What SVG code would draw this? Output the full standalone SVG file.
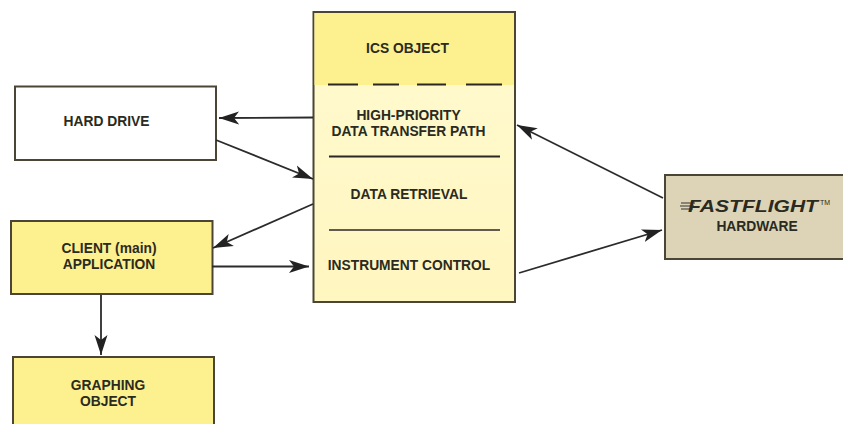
<svg xmlns="http://www.w3.org/2000/svg" width="843" height="424" viewBox="0 0 843 424">
<style>
.box{stroke:#4a4535;stroke-width:2}
.y{fill:#fdf08f}
.lbl{font-family:"Liberation Sans",Arial,sans-serif;font-weight:bold;font-size:13.800px;fill:#2a2a20;text-anchor:middle}
.c{fill:none;stroke:#2b2b2b;stroke-width:1.800;marker-end:url(#a)}
.r{stroke:#2b2723;fill:none}
</style>
<defs>
<marker id="a" markerUnits="userSpaceOnUse" markerWidth="24" markerHeight="20" refX="20" refY="10" orient="auto">
<path d="M0 3.500 L20 10 L0 16.500 L5 10 Z" fill="#222"/>
</marker>
<linearGradient id="g" x1="0" y1="0" x2="0" y2="1"><stop offset="0" stop-color="#fffad0"/><stop offset="1" stop-color="#fff6c0"/></linearGradient>
</defs>
<rect width="843" height="424" fill="#fff"/>
<g id="ics-object">
<rect x="313.500" y="12" width="201.500" height="290" fill="url(#g)" class="box"/>
<rect x="314.500" y="13" width="199.500" height="72" class="y"/>
<line x1="328" y1="84.500" x2="502" y2="84.500" class="r" stroke-width="2" stroke-dasharray="30 15 26 18 29 20 36"/>
<line x1="329" y1="156.500" x2="500" y2="156.500" class="r" stroke-width="2"/>
<line x1="329" y1="230" x2="500" y2="230" class="r" stroke-width="1.300"/>
<text x="407.500" y="52.500" class="lbl">ICS OBJECT</text>
<text x="408.500" y="120" class="lbl">HIGH-PRIORITY</text>
<text x="408.500" y="136" class="lbl">DATA TRANSFER PATH</text>
<text x="409" y="199" class="lbl">DATA RETRIEVAL</text>
<text x="409" y="270" class="lbl">INSTRUMENT CONTROL</text>
</g>
<g id="hard-drive">
<rect x="15" y="86.500" width="201" height="73.500" fill="#fff" class="box"/>
<text x="106.500" y="125.500" class="lbl">HARD DRIVE</text>
</g>
<g id="client">
<rect x="11" y="221" width="201.500" height="73" class="box y"/>
<text x="109" y="252.500" class="lbl">CLIENT (main)</text>
<text x="109" y="268.500" class="lbl">APPLICATION</text>
</g>
<g id="graphing">
<rect x="13" y="357" width="201" height="70" class="box y"/>
<text x="108" y="390" class="lbl">GRAPHING</text>
<text x="108" y="406" class="lbl">OBJECT</text>
</g>
<g id="fastflight">
<rect x="665" y="175" width="180" height="84" fill="#ddd4b8" class="box"/>
<g stroke="#333" stroke-width="1"><line x1="681" y1="203" x2="695" y2="203"/><line x1="680" y1="206" x2="694" y2="206"/><line x1="681" y1="209" x2="693" y2="209"/></g>
<text x="753" y="212" class="lbl" font-style="italic" textLength="130" lengthAdjust="spacingAndGlyphs" style="font-size:17px">FASTFLIGHT</text>
<text x="825" y="205" class="lbl" style="font-size:7px;font-weight:normal">TM</text>
<text x="757" y="231" class="lbl">HARDWARE</text>
</g>
<g id="connectors">
<path class="c" d="M313 117.500 L219 118"/>
<path class="c" d="M216 140 L313 179"/>
<path class="c" d="M313 204 L213 248"/>
<path class="c" d="M212 266.500 L309 266.500"/>
<path class="c" d="M101 295 L101 355"/>
<path class="c" d="M663 198 L517 125"/>
<path class="c" d="M519 273 L662 230"/>
</g>
</svg>
